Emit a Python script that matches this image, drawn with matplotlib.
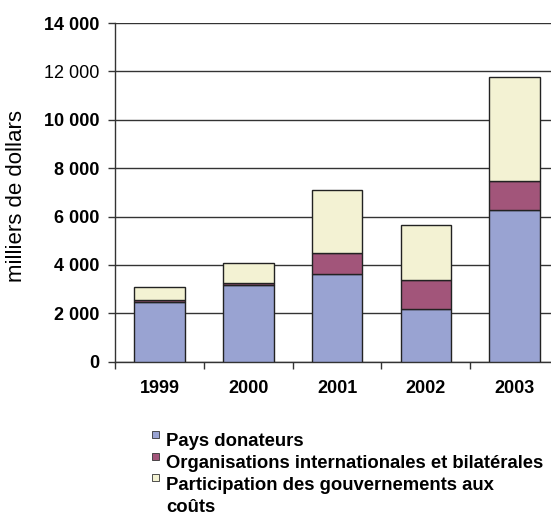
import matplotlib
matplotlib.use("Agg")
import matplotlib.pyplot as plt
from matplotlib.patches import Rectangle

plt.rcParams['font.family'] = ['Liberation Sans', 'DejaVu Sans']

years = ['1999', '2000', '2001', '2002', '2003']
donateurs = [2480, 3170, 3610, 2180, 6280]
organisations = [60, 70, 900, 1200, 1170]
gouvernements = [560, 840, 2570, 2280, 4330]

series = [donateurs, organisations, gouvernements]
labels = ['Pays donateurs',
          'Organisations internationales et bilatérales',
          'Participation des gouvernements aux\ncoûts']
colors = ['#99a3d2', '#a2557a', '#f3f2d3']

yticks = [0, 2000, 4000, 6000, 8000, 10000, 12000, 14000]
ytick_labels = ['0', '2 000', '4 000', '6 000', '8 000', '10 000', '12 000', '14 000']

W, H = 551, 516
fig = plt.figure(figsize=(5.51, 5.16), dpi=100)
ax = fig.add_axes([0.2087, 0.299, 0.806, 0.6564])

x = list(range(len(years)))
bottom = [0] * len(years)
for vals, c in zip(series, colors):
    ax.bar(x, vals, width=0.57, bottom=bottom, color=c, edgecolor='#222222',
           linewidth=1.0, zorder=3)
    bottom = [b + v for b, v in zip(bottom, vals)]

ax.set_ylim(0, 14000)
ax.set_xlim(-0.5, 4.5)
ax.set_yticks(yticks)
ax.set_yticklabels(ytick_labels, fontsize=13, fontweight='bold')
# the 12 000 label is not bold in the original
ax.get_yticklabels()[6].set_fontweight('normal')
ax.yaxis.grid(True, color='#333333', linewidth=1.0, zorder=0)

ax.set_xticks([i - 0.5 for i in range(len(years) + 1)])
ax.set_xticklabels([])
ax.set_xticks(x, minor=True)
ax.set_xticklabels(years, minor=True, fontsize=13, fontweight='bold')
ax.tick_params(axis='x', which='minor', length=0, pad=13)
ax.tick_params(axis='x', which='major', length=5, width=1, color='#333333')
ax.tick_params(axis='y', length=5, width=1, color='#333333', pad=6)

for s in ['top', 'right']:
    ax.spines[s].set_visible(False)
for s in ['left', 'bottom']:
    ax.spines[s].set_color('#333333')
    ax.spines[s].set_linewidth(1.0)

fig.text(17 / W, 1 - 196 / H, 'milliers de dollars', fontsize=16, rotation=90,
         ha='center', va='center')

# legend below the chart
line_step = 21.7
row = 0
for lab, c in zip(labels, colors):
    base = 446.5 + row * line_step
    fig.patches.append(Rectangle((152 / W, 1 - (base - 8.5) / H), 6.5 / W, 7 / H,
                                 transform=fig.transFigure, facecolor=c,
                                 edgecolor='#333333', linewidth=0.6))
    for part in lab.split('\n'):
        fig.text(166.5 / W, 1 - (row * line_step + 446.5) / H, part, fontsize=13.3,
                 fontweight='bold', va='baseline', ha='left')
        row += 1

fig.savefig('out.png', dpi=100)
